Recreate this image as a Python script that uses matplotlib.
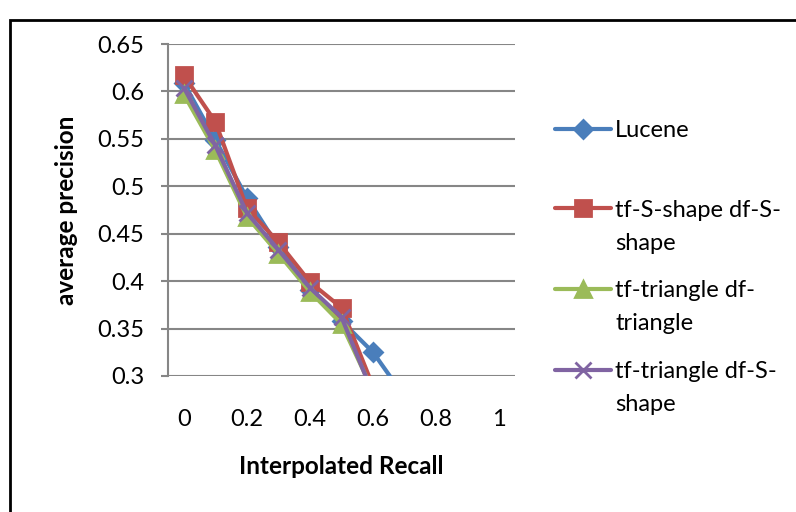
import numpy as np
import matplotlib.pyplot as plt
from matplotlib.lines import Line2D
from matplotlib.patches import Rectangle

## Data (points below 0.3 are clipped away)
recall = [0, 0.1, 0.2, 0.3, 0.4, 0.5, 0.6, 0.7, 0.8, 0.9, 1.0]
lucene = [0.609, 0.549, 0.488, 0.436, 0.391, 0.358, 0.325, 0.278, 0.24, 0.2, 0.16]
s_s = [0.617, 0.568, 0.477, 0.441, 0.399, 0.372, 0.289, 0.24, 0.2, 0.16, 0.12]
tri_tri = [0.597, 0.538, 0.468, 0.429, 0.389, 0.355, 0.284, 0.24, 0.2, 0.16, 0.12]
tri_s = [0.604, 0.543, 0.472, 0.433, 0.393, 0.362, 0.281, 0.24, 0.2, 0.16, 0.12]

names = ["Lucene", "tf-S-shape df-S-\nshape", "tf-triangle df-\ntriangle",
         "tf-triangle df-S-\nshape"]
colours = ["#4A7EBB", "#C0504D", "#9BBB59", "#8064A2"]
markers = ["D", "s", "^", "x"]
msizes = [9, 12, 11, 11]

plt.rcParams['font.family'] = ['Lato', 'DejaVu Sans']

fig = plt.figure(figsize=(7.96, 5.12), dpi=100)
ax = fig.add_axes([168/796, 1-376/512, (515-168)/796, (376-44)/512])

for vals, c, m, ms in zip([lucene, s_s, tri_tri, tri_s], colours, markers, msizes):
    ax.plot(recall, vals, color=c, lw=3, marker=m, ms=ms, mew=2,
            mfc=c, mec=c, solid_capstyle='round')

ax.set_xlim(-0.05, 1.05)
ax.set_ylim(0.3, 0.65)
ax.set_yticks(np.arange(0.3, 0.651, 0.05))
ax.set_yticklabels(["0.3", "0.35", "0.4", "0.45", "0.5", "0.55", "0.6", "0.65"])
ax.set_xticks([0, 0.2, 0.4, 0.6, 0.8, 1.0])
ax.set_xticklabels(["0", "0.2", "0.4", "0.6", "0.8", "1"])
ax.grid(axis='y', color='#868686', lw=1.5)
ax.set_axisbelow(True)
for s in ['top', 'right', 'bottom']:
    ax.spines[s].set_visible(False)
ax.spines['left'].set_color('#868686')
ax.spines['left'].set_linewidth(1.5)
ax.tick_params(axis='y', colors='#868686', length=5, width=1.5, labelsize=17,
               labelcolor='black', pad=12)
ax.tick_params(axis='x', length=0, labelsize=17, pad=24)

ax.set_xlabel("Interpolated Recall", fontsize=17.5, fontweight='bold', labelpad=18)
ax.set_ylabel("average precision", fontsize=17.5, fontweight='bold', labelpad=14)

## legend drawn by hand to match the layout
leg_y = [129, 208, 289, 370]
base_y = [137, 217, 297, 378]
for name, c, m, ms, hy, by in zip(names, colours, markers, msizes, leg_y, base_y):
    fig.add_artist(Line2D([555/796, 611/796], [1-hy/512, 1-hy/512], color=c, lw=3,
                          solid_capstyle='round'))
    fig.add_artist(Line2D([583/796], [1-hy/512], color=c, marker=m, ms=ms, mew=2,
                          mfc=c, mec=c))
    for i, part in enumerate(name.split("\n")):
        fig.text(615/796, 1-(by+33*i)/512, part, fontsize=17, va='baseline', ha='left')

## outer chart border
fig.add_artist(Rectangle((10/796, -0.1), 1.2, 1-20/512+0.1, transform=fig.transFigure,
                         fill=False, ec='black', lw=2))

fig.savefig("out.png", dpi=100)
